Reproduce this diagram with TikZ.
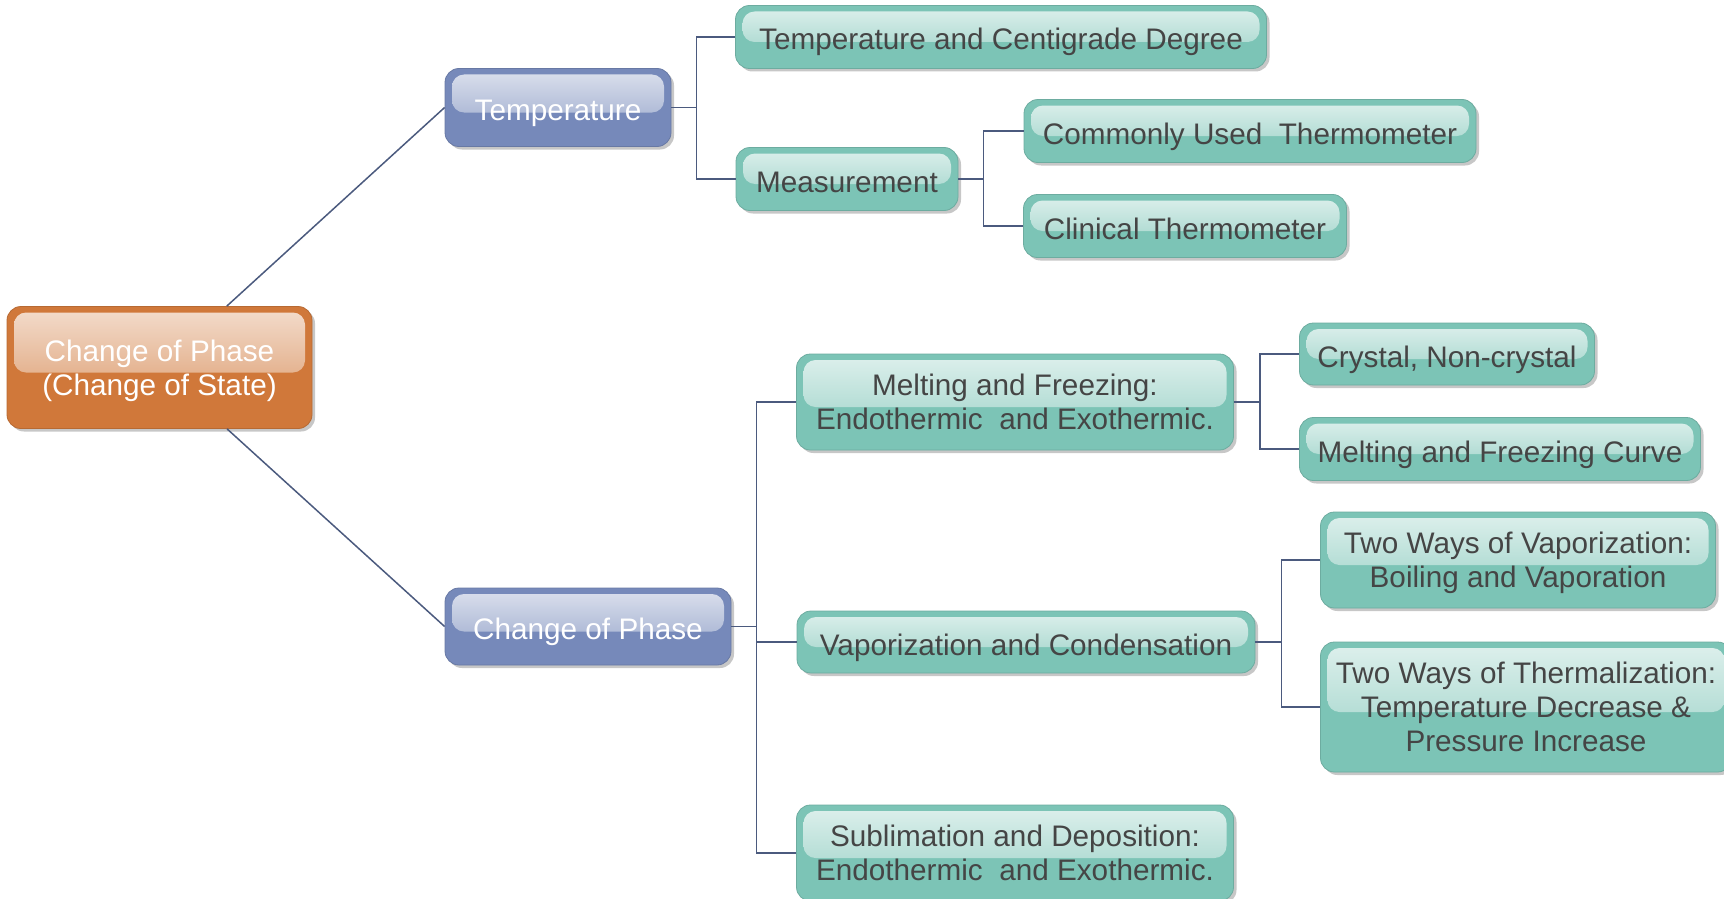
\documentclass[tikz,border=0pt]{standalone}
\usepackage{fontspec}
\setmainfont{Liberation Sans}
\usetikzlibrary{shadows}
\definecolor{rootc}{HTML}{D0783A}
\definecolor{bluec}{HTML}{7689BA}
\definecolor{tealc}{HTML}{7CC4B6}
\definecolor{linec}{HTML}{4B5A7E}
\definecolor{textc}{HTML}{454545}
\begin{document}
\begin{tikzpicture}[x=1pt, y=-1pt,
    box/.style={rounded corners=14pt, fill=#1, draw=#1!88!black, line width=0.8pt,
      align=center, inner sep=0pt, font=\fontsize{29.7}{34}\selectfont,
      text depth=0pt, execute at begin node=\rule{0pt}{26pt},
      drop shadow={shadow xshift=3pt, shadow yshift=-3pt, fill=black!22, opacity=1},
      path picture={\shade[rounded corners=12pt, top color=#1!25!white, bottom color=#1!82!white]
        ([xshift=7pt,yshift=-6pt]path picture bounding box.north west) rectangle
        ([xshift=-7pt,yshift=-5pt]path picture bounding box.east);}},
    rootbox/.style={box=rootc, text=white},
    topic/.style={box=bluec, text=white},
    leaf/.style={box=tealc, text=textc},
    link/.style={linec, line width=1.5pt}]
  \useasboundingbox (0,0) rectangle (1724,899);
  \node (root) at (159.5,367.5) [rootbox, minimum width=305pt, minimum height=122pt] {Change of Phase\\(Change of State)};
  \node (temp) at (558,107.5) [topic, minimum width=226pt, minimum height=78pt] {Temperature};
  \node (cop) at (588,626.5) [topic, minimum width=286pt, minimum height=77pt] {Change of Phase};
  \node (tcd) at (1001,37) [leaf, minimum width=531pt, minimum height=63pt] {Temperature and Centigrade Degree};
  \node (meas) at (847,179) [leaf, minimum width=222pt, minimum height=63pt] {Measurement};
  \node (used) at (1250,131) [leaf, minimum width=452pt, minimum height=63pt] {Commonly Used \ Thermometer};
  \node (clin) at (1185,226) [leaf, minimum width=323pt, minimum height=63pt] {Clinical Thermometer};
  \node (melt) at (1015,402) [leaf, minimum width=437pt, minimum height=96pt] {Melting and Freezing:\\Endothermic \ and Exothermic.};
  \node (crys) at (1447,354) [leaf, minimum width=295pt, minimum height=62pt] {Crystal, Non-crystal};
  \node (curve) at (1500,449) [leaf, minimum width=401pt, minimum height=63pt] {Melting and Freezing Curve};
  \node (vapc) at (1026,642) [leaf, minimum width=458pt, minimum height=62pt] {Vaporization and Condensation};
  \node (boil) at (1518,560) [leaf, minimum width=395pt, minimum height=96pt] {Two Ways of Vaporization:\\Boiling and Vaporation};
  \node (therm) at (1526,707) [leaf, minimum width=411pt, minimum height=130pt] {Two Ways of Thermalization:\\Temperature Decrease \&\\Pressure Increase};
  \node (subl) at (1015,853) [leaf, minimum width=437pt, minimum height=96pt] {Sublimation and Deposition:\\Endothermic \ and Exothermic.};
  \draw[link] (root) -- (temp.west)
              (root) -- (cop.west);
  \draw[link] (temp.east) -- ++(25,0) |- (tcd.west)
              (temp.east) -- ++(25,0) |- (meas.west);
  \draw[link] (meas.east) -- ++(25,0) |- (used.west)
              (meas.east) -- ++(25,0) |- (clin.west);
  \draw[link] (cop.east) -- ++(25,0) |- (melt.west)
              (cop.east) -- ++(25,0) |- (vapc.west)
              (cop.east) -- ++(25,0) |- (subl.west);
  \draw[link] (melt.east) -- ++(26,0) |- (crys.west)
              (melt.east) -- ++(26,0) |- (curve.west);
  \draw[link] (vapc.east) -- ++(26,0) |- (boil.west)
              (vapc.east) -- ++(26,0) |- (therm.west);
\end{tikzpicture}
\end{document}
